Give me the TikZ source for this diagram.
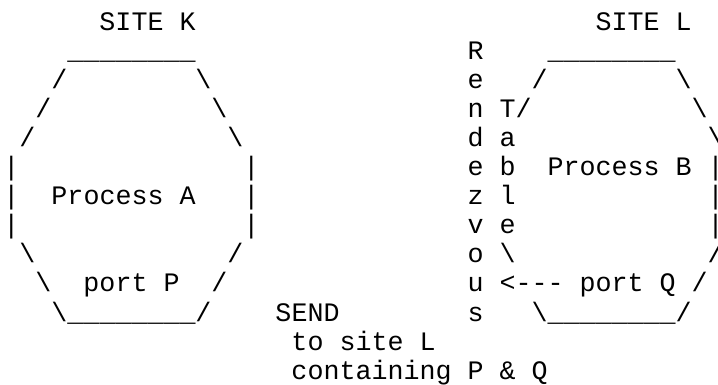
\documentclass[tikz,border=0pt]{standalone}
\usepackage{fontspec}
\setmonofont{Liberation Mono}
\newcommand\ascF{/}
\newcommand\ascB{\textbackslash}
\newcommand\ascV{|}
\tikzset{asc/.style={anchor=base west,inner sep=0pt,font=\ttfamily\fontsize{26.67pt}{29.1pt}\selectfont}}
\begin{document}
\begin{tikzpicture}[x=16pt,y=-29.1pt]
\useasboundingbox (-0.206,-1.031) rectangle (44.669,12.199);
% site K
\node[asc] (siteK) at (6,0) {SITE K};
\node[asc] (topK) at (4,1) {\_\_\_\_\_\_\_\_};
\node[asc] (botK) at (4,10) {\_\_\_\_\_\_\_\_};
\foreach \c/\r/\s [count=\i] in {3/2/\ascF,2/3/\ascF,1/4/\ascF,0/5/\ascV,0/6/\ascV,0/7/\ascV,1/8/\ascB,2/9/\ascB,3/10/\ascB,
  12/2/\ascB,13/3/\ascB,14/4/\ascB,15/5/\ascV,15/6/\ascV,15/7/\ascV,14/8/\ascF,13/9/\ascF,12/10/\ascF}
  \node[asc] (edgeK\i) at (\c,\r) {\s};
\node[asc] (procA) at (3,6) {Process A};
\node[asc] (portP) at (5,9) {port P};
% message
\node[asc] (send) at (17,10) {SEND};
\node[asc] (toL) at (18,11) {to site L};
\node[asc] (cont) at (18,12) {containing P \& Q};
% rendezvous table
\foreach \ch [count=\i] in {R,e,n,d,e,z,v,o,u,s}
  \node[asc] (rdv\i) at (29,\i) {\ch};
\foreach \ch [count=\i from 3] in {T,a,b,l,e}
  \node[asc] (tbl\i) at (31,\i) {\ch};
% site L
\node[asc] (siteL) at (37,0) {SITE L};
\node[asc] (topL) at (34,1) {\_\_\_\_\_\_\_\_};
\node[asc] (botL) at (34,10) {\_\_\_\_\_\_\_\_};
\foreach \c/\r/\s [count=\i] in {33/2/\ascF,32/3/\ascF,31/8/\ascB,33/10/\ascB,
  42/2/\ascB,43/3/\ascB,44/4/\ascB,44/5/\ascV,44/6/\ascV,44/7/\ascV,44/8/\ascF,43/9/\ascF,42/10/\ascF}
  \node[asc] (edgeL\i) at (\c,\r) {\s};
\node[asc] (procB) at (34,5) {Process B};
\node[asc] (arrQ) at (31,9) {<-{}-{}-};
\node[asc] (portQ) at (36,9) {port Q};
\end{tikzpicture}
\end{document}
